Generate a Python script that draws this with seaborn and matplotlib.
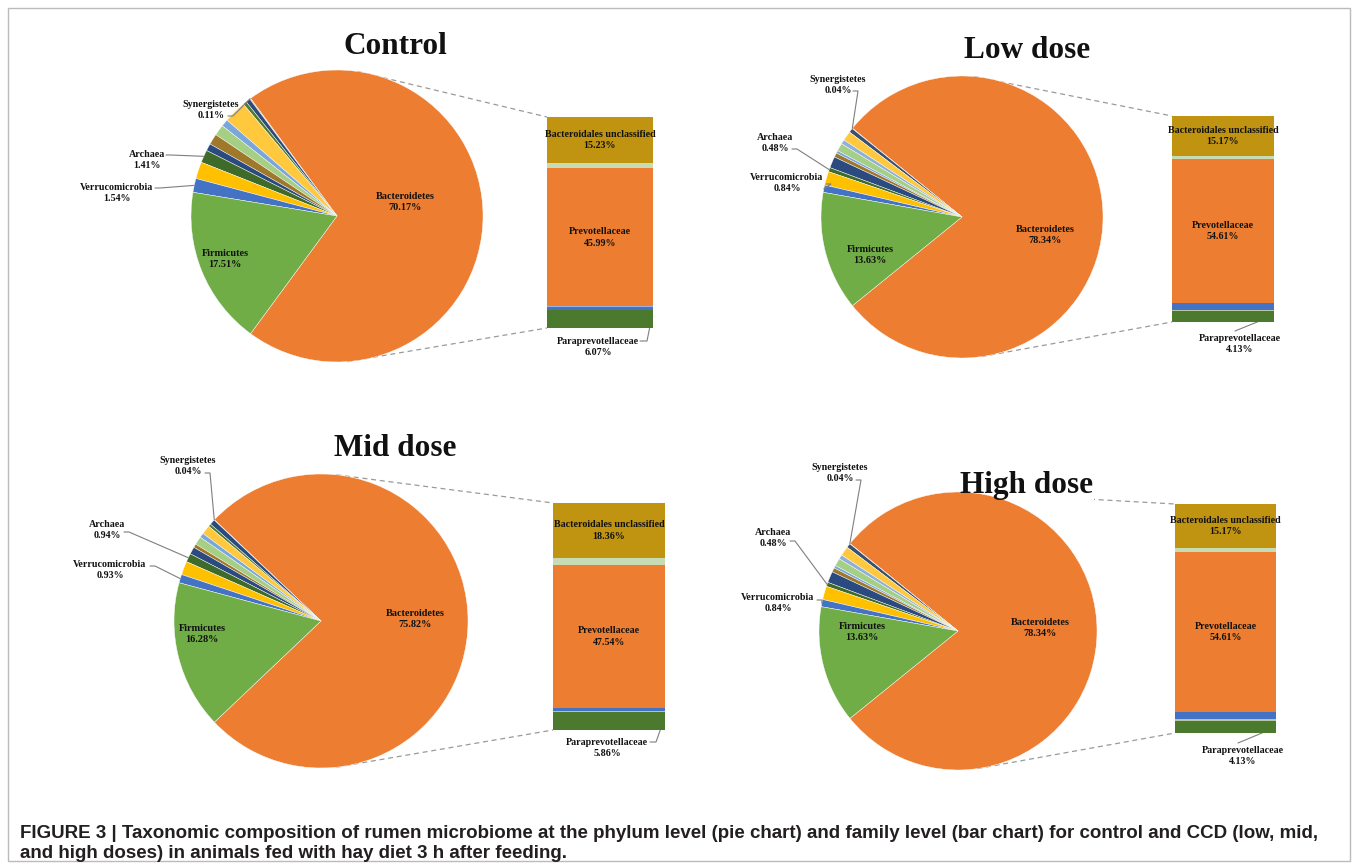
import numpy as np
import matplotlib
matplotlib.use("Agg")
import matplotlib.pyplot as plt
from matplotlib.patches import Rectangle
import seaborn as sns
import pandas as pd

sns.set_theme(style="white")
plt.rcParams['font.family'] = ['Liberation Serif', 'DejaVu Serif']

W, H = 1358, 864

# ---------------- data ----------------
# pie slices, counter-clockwise starting with Bacteroidetes
control_phyla = ["Bacteroidetes", "Synergistetes", "Other 1", "Other 2", "Other 3", "Other 4",
                 "Other 5", "Other 6", "Other 7", "Archaea", "Other 8", "Verrucomicrobia", "Firmicutes"]
control_values = [70.17, 0.11, 0.50, 0.40, 2.50, 0.80, 1.20, 1.20, 0.80, 1.41, 1.86, 1.54, 17.51]

low_phyla = ["Bacteroidetes", "Synergistetes", "Other 1", "Other 2", "Other 3", "Other 4",
             "Other 5", "Other 6", "Other 7", "Archaea", "Other 8", "Verrucomicrobia", "Firmicutes"]
low_values = [78.34, 0.04, 0.50, 1.10, 0.50, 0.90, 0.30, 0.50, 1.30, 0.48, 1.57, 0.84, 13.63]

mid_phyla = ["Bacteroidetes", "Synergistetes", "Other 1", "Other 2", "Other 3", "Other 4",
             "Other 5", "Other 6", "Other 7", "Archaea", "Other 8", "Verrucomicrobia", "Firmicutes"]
mid_values = [75.82, 0.04, 0.60, 0.30, 1.00, 0.50, 0.90, 0.40, 0.80, 0.94, 1.49, 0.93, 16.28]

high_phyla = ["Bacteroidetes", "Synergistetes", "Other 1", "Other 2", "Other 3", "Other 4",
              "Other 5", "Other 6", "Other 7", "Archaea", "Other 8", "Verrucomicrobia", "Firmicutes"]
high_values = [78.34, 0.04, 0.50, 1.10, 0.50, 0.90, 0.30, 0.50, 1.30, 0.48, 1.57, 0.84, 13.63]

# bar segments (Bacteroidetes families), top to bottom
control_families = ["Bacteroidales unclassified", "Other family A", "Prevotellaceae",
                    "Other family B", "Other family C", "Paraprevotellaceae"]
control_family_values = [15.23, 1.78, 45.99, 0.30, 0.80, 6.07]

low_families = ["Bacteroidales unclassified", "Other family A", "Prevotellaceae",
                "Other family C", "Other family B", "Paraprevotellaceae"]
low_family_values = [15.17, 1.30, 54.61, 2.60, 0.53, 4.13]

mid_families = ["Bacteroidales unclassified", "Other family A", "Prevotellaceae",
                "Other family C", "Other family B", "Paraprevotellaceae"]
mid_family_values = [18.36, 2.50, 47.54, 1.20, 0.36, 5.86]

high_families = ["Bacteroidales unclassified", "Other family A", "Prevotellaceae",
                 "Other family C", "Other family B", "Paraprevotellaceae"]
high_family_values = [15.17, 1.30, 54.61, 2.60, 0.53, 4.13]

titles = ["Control", "Low dose", "Mid dose", "High dose"]
caption_lines = [
    "FIGURE 3 | Taxonomic composition of rumen microbiome at the phylum level (pie chart) and family level (bar chart) for control and CCD (low, mid,",
    "and high doses) in animals fed with hay diet 3 h after feeding.",
]

# ---------------- styles ----------------
ORANGE = "#ED7D31"
GREEN = "#70AD47"
pie_colors_control = [ORANGE, "#C8B27A", "#2F4B7C", "#4E7A32", "#FFC83D", "#7AA6DB", "#A4CF84",
                      "#A0782A", "#2B4A80", "#3F6B2A", "#FFC000", "#4472C4", GREEN]
pie_colors_low = [ORANGE, "#C8B27A", "#3A5070", "#FFC83D", "#8FB0D8", "#A4CF84", "#7AA6DB",
                  "#A0782A", "#2B4A80", "#3F6B2A", "#FFC000", "#4472C4", GREEN]
pie_colors_mid = [ORANGE, "#B8B8A0", "#2B4A80", "#4E7A32", "#FFC83D", "#7AA6DB", "#A4CF84",
                  "#A0782A", "#2B4A80", "#3F6B2A", "#FFC000", "#4472C4", GREEN]
pie_colors_high = pie_colors_low

fam_colors_std = ["#C09410", "#C7DCB4", ORANGE, "#9DB4DE", "#4472C4", "#4B7A2F"]
fam_colors_alt = ["#C09410", "#C7DCB4", ORANGE, "#4472C4", "#B9C7A0", "#4B7A2F"]

panels = [
    dict(phyla=control_phyla, values=control_values, families=control_families,
         fvalues=control_family_values, pcolors=pie_colors_control, fcolors=fam_colors_std,
         title=titles[0], title_xy=(395, 46),
         center=(337, 216), r=146, rot=0,
         bar=(547, 117, 653, 328),
         labels={"Synergistetes": ((211, 110), (228, 116)),
                 "Archaea": ((147, 160), (166, 155)),
                 "Verrucomicrobia": ((117, 193), (155, 188))},
         firm_xy=(225, 259), bact_xy=(405, 202),
         para_xy=(598, 347), para_leader=[(640, 341), (647, 341), (650, 326)],
         conn=(82, -86)),
    dict(phyla=low_phyla, values=low_values, families=low_families,
         fvalues=low_family_values, pcolors=pie_colors_low, fcolors=fam_colors_alt,
         title=titles[1], title_xy=(1027, 50),
         center=(962, 217), r=141, rot=0,
         bar=(1172, 116, 1274, 322),
         labels={"Synergistetes": ((838, 85), (853, 91)),
                 "Archaea": ((775, 143), (792, 149)),
                 "Verrucomicrobia": ((787, 183), (826, 184))},
         firm_xy=(870, 255), bact_xy=(1045, 235),
         para_xy=(1240, 344), para_leader=[(1235, 331), (1272, 316)],
         conn=(85, -82)),
    dict(phyla=mid_phyla, values=mid_values, families=mid_families,
         fvalues=mid_family_values, pcolors=pie_colors_mid, fcolors=fam_colors_alt,
         title=titles[2], title_xy=(395, 448),
         center=(321, 621), r=147, rot=0,
         bar=(553, 503, 665, 730),
         labels={"Synergistetes": ((188, 466), (205, 473)),
                 "Archaea": ((107, 530), (124, 532)),
                 "Verrucomicrobia": ((110, 570), (150, 566))},
         firm_xy=(202, 634), bact_xy=(415, 619),
         para_xy=(607, 748), para_leader=[(650, 742), (656, 742), (661, 728)],
         conn=(84, -84)),
    dict(phyla=high_phyla, values=high_values, families=high_families,
         fvalues=high_family_values, pcolors=pie_colors_high, fcolors=fam_colors_alt,
         title=titles[3], title_xy=(1027, 485),
         center=(958, 631), r=139, rot=0,
         bar=(1175, 504, 1276, 733),
         labels={"Synergistetes": ((840, 473), (856, 480)),
                 "Archaea": ((773, 538), (790, 541)),
                 "Verrucomicrobia": ((778, 603), (817, 600))},
         firm_xy=(862, 632), bact_xy=(1040, 628),
         para_xy=(1243, 756), para_leader=[(1238, 743), (1274, 728)],
         conn=(86, -82)),
]

fig = plt.figure(figsize=(W / 100, H / 100), dpi=100)
ax = fig.add_axes([0, 0, 1, 1])

TXT = dict(family=['Liberation Serif', 'DejaVu Serif'], fontweight="bold", color="#111111")
LBL = 7.2
LBL_IN = 7.4
LS = 1.35
LEAD = dict(color="#7f7f7f", lw=0.8, zorder=3)

def Y(y):
    return H - y

for p in panels:
    vals = p["values"]
    frac = vals[0] / sum(vals)
    start = p["rot"] - 180 * frac
    cx, cy = p["center"][0], Y(p["center"][1])
    r = p["r"]
    wedges, _ = ax.pie(vals, colors=p["pcolors"], startangle=start, center=(cx, cy),
                       radius=r, frame=True, counterclock=True,
                       wedgeprops=dict(edgecolor="white", linewidth=0.3, zorder=2))
    # dashed connectors (behind pie and title)
    x0, y0, x1, y1 = p["bar"]
    a_top, a_bot = np.deg2rad(p["conn"][0]), np.deg2rad(p["conn"][1])
    ax.plot([cx + r * np.cos(a_top), x0], [cy + r * np.sin(a_top), Y(y0)],
            color="#9a9a9a", lw=0.9, ls=(0, (4, 3)), zorder=1)
    ax.plot([cx + r * np.cos(a_bot), x0], [cy + r * np.sin(a_bot), Y(y1)],
            color="#9a9a9a", lw=0.9, ls=(0, (4, 3)), zorder=1)
    # title: a white mask under the pie hides connectors, text on top
    tx, ty = p["title_xy"][0], Y(p["title_xy"][1])
    ax.text(tx, ty, p["title"], fontsize=22.5, ha="center", va="center", zorder=1.5,
            family=TXT["family"], fontweight="bold", color="white",
            bbox=dict(facecolor="white", edgecolor="none", pad=0.5))
    ax.text(tx, ty, p["title"], fontsize=22.5, ha="center", va="center", zorder=5, **TXT)
    # outside labels with leaders
    for name, (txy, anchor) in p["labels"].items():
        i = p["phyla"].index(name)
        w = wedges[i]
        mid = np.deg2rad((w.theta1 + w.theta2) / 2)
        rx, ry = cx + r * np.cos(mid), cy + r * np.sin(mid)
        ax.text(txy[0], Y(txy[1]), f"{name}\n{vals[i]:.2f}%", fontsize=LBL,
                ha="center", va="center", linespacing=LS, zorder=4, **TXT)
        ax.plot([anchor[0], anchor[0] + 5, rx], [Y(anchor[1]), Y(anchor[1]), ry], **LEAD)
    # inner labels
    iF = p["phyla"].index("Firmicutes")
    ax.text(p["firm_xy"][0], Y(p["firm_xy"][1]), f"Firmicutes\n{vals[iF]:.2f}%",
            fontsize=LBL_IN, ha="center", va="center", linespacing=LS, zorder=4, **TXT)
    ax.text(p["bact_xy"][0], Y(p["bact_xy"][1]), f"Bacteroidetes\n{vals[0]:.2f}%",
            fontsize=LBL_IN, ha="center", va="center", linespacing=LS, zorder=4, **TXT)

    # bar of the Bacteroidetes wedge
    bax = fig.add_axes([x0 / W, (H - y1) / H, (x1 - x0) / W, (y1 - y0) / H])
    df = pd.DataFrame({"group": ["Bacteroidetes"] * len(p["families"]),
                       "family": p["families"], "value": p["fvalues"]})
    sns.histplot(data=df, x="group", weights="value", hue="family",
                 hue_order=p["families"], palette=dict(zip(p["families"], p["fcolors"])),
                 multiple="stack", discrete=True, shrink=1, linewidth=0, alpha=1,
                 legend=False, ax=bax)
    total = sum(p["fvalues"])
    bax.set_xlim(-0.5, 0.5)
    bax.set_ylim(0, total)
    bax.axis("off")
    tops = total - np.concatenate([[0], np.cumsum(p["fvalues"])[:-1]])
    for fam in ["Bacteroidales unclassified", "Prevotellaceae"]:
        j = p["families"].index(fam)
        yc = tops[j] - p["fvalues"][j] / 2
        bax.text(0, yc, f"{fam}\n{p['fvalues'][j]:.2f}%", fontsize=LBL, ha="center",
                 va="center", linespacing=LS, **TXT)
    j = p["families"].index("Paraprevotellaceae")
    ax.text(p["para_xy"][0], Y(p["para_xy"][1]), f"Paraprevotellaceae\n{p['fvalues'][j]:.2f}%",
            fontsize=LBL, ha="center", va="center", linespacing=LS, zorder=4, **TXT)
    lx, ly = zip(*p["para_leader"])
    ax.plot(lx, [Y(v) for v in ly], **LEAD)

# outer frame
ax.add_patch(Rectangle((8, Y(861)), 1342, 853, fill=False, edgecolor="#BBBBBB", lw=1.0))

# caption
cap_size = 13.5
ax.text(20, Y(833), caption_lines[0], fontsize=cap_size, family="Liberation Sans",
        fontweight="bold", color="#231F20", ha="left", va="center")
ax.text(20, Y(853), caption_lines[1], fontsize=cap_size, family="Liberation Sans",
        fontweight="bold", color="#231F20", ha="left", va="center")

ax.set_xlim(0, W)
ax.set_ylim(0, H)
ax.set_aspect("auto")
ax.axis("off")

fig.savefig("out.png", dpi=100)
